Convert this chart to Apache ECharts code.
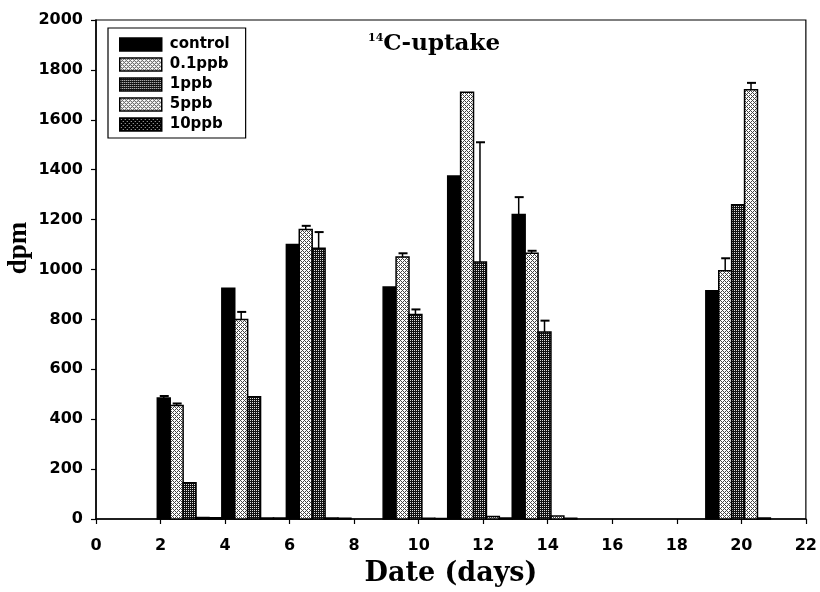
<!DOCTYPE html>
<html>
<head>
<meta charset="utf-8">
<script src="https://cdn.jsdelivr.net/npm/echarts@6/dist/echarts.min.js"></script>
<style>html,body{margin:0;padding:0;background:#fff}#c{width:820px;height:592px}</style>
</head>
<body>
<div id="c"></div>
<script>
// ---- data ----
const days = [2, 4, 6, 9, 11, 13, 19];
const seriesNames = ['control', '0.1ppb', '1ppb', '5ppb', '10ppb'];
const control     = [485, 925, 1100, 930, 1375, 1220, 915];
const ppb01       = [455, 800, 1160, 1050, 1710, 1065, 995];
const ppb1        = [145, 490, 1085, 820, 1030, 750, 1260];
const ppb5        = [6, 4, 4, 3, 10, 12, 1720];
const ppb10       = [5, 4, 3, 2, 4, 3, 4];
const errControl  = [8, 0, 0, 0, 0, 70, 0];
const err01       = [8, 30, 15, 15, 0, 10, 50];
const err1        = [0, 0, 65, 20, 480, 45, 0];
const err5        = [0, 0, 0, 0, 0, 0, 28];
const err10       = [0, 0, 0, 0, 0, 0, 0];
const xTicks = { min: 0, max: 22, interval: 2 };
const yTicks = { min: 0, max: 2000, interval: 200 };

const allValues = [control, ppb01, ppb1, ppb5, ppb10];
const allErrors = [errControl, err01, err1, err5, err10];

// ---- fill patterns ----
function makePattern(kind) {
  const c = document.createElement('canvas');
  c.width = 4; c.height = 4;
  const g = c.getContext('2d');
  if (kind === 'solid') { g.fillStyle = '#000'; g.fillRect(0,0,4,4); }
  else if (kind === 'light') {
    g.fillStyle = '#fff'; g.fillRect(0,0,4,4);
    g.fillStyle = '#444';
    [[0,0],[1,1],[2,2],[3,3],[3,1],[1,3]].forEach(p => g.fillRect(p[0],p[1],1,1));
  } else if (kind === 'dark') {
    g.fillStyle = '#111'; g.fillRect(0,0,4,4);
    g.fillStyle = '#ddd';
    [[0,0],[2,2],[2,0],[0,2]].forEach(p => g.fillRect(p[0],p[1],1,1));
  } else {
    g.fillStyle = '#000'; g.fillRect(0,0,4,4);
    g.fillStyle = '#bbb';
    [[1,1],[3,3]].forEach(p => g.fillRect(p[0],p[1],1,1));
  }
  return { image: c, repeat: 'repeat' };
}
const fills = [makePattern('solid'), makePattern('light'), makePattern('dark'), makePattern('light'), makePattern('darker')];

const BAR_W = 0.4, START = -0.1;

function renderItem(params, api) {
  const i = params.seriesIndex;
  const d = api.value(0), v = api.value(1), e = api.value(2);
  const xl = d + START + i * BAR_W, xr = xl + BAR_W;
  const p0 = api.coord([xl, 0]);
  const p1 = api.coord([xr, v]);
  const children = [{
    type: 'rect',
    shape: { x: p0[0], y: p1[1], width: p1[0] - p0[0], height: p0[1] - p1[1] },
    style: { fill: fills[i], stroke: '#000', lineWidth: 1.5 }
  }];
  if (e > 0) {
    const cx = (p0[0] + p1[0]) / 2;
    const pt = api.coord([xl, v + e]);
    children.push({ type: 'line', shape: { x1: cx, y1: p1[1], x2: cx, y2: pt[1] }, style: { stroke: '#000', lineWidth: 1.5 } });
    children.push({ type: 'line', shape: { x1: cx - 4, y1: pt[1], x2: cx + 5, y2: pt[1] }, style: { stroke: '#000', lineWidth: 2 } });
  }
  return { type: 'group', children };
}

const series = seriesNames.map((name, i) => ({
  name,
  type: 'custom',
  renderItem,
  itemStyle: { color: fills[i], borderColor: '#000', borderWidth: 1.5 },
  encode: { x: 0, y: 1 },
  data: days.map((d, k) => [d, allValues[i][k], allErrors[i][k]]),
  z: 2
}));

const chart = echarts.init(document.getElementById('c'));
chart.setOption({
  animation: false,
  backgroundColor: '#fff',
  grid: { left: 96, right: 12, top: 20, bottom: 70, show: true, borderColor: '#000', borderWidth: 1.2, backgroundColor: 'transparent' },
  title: {
    left: 363, top: 28,
    text: '{s|14}{b|C-uptake}',
    textStyle: {
      rich: {
        s: { fontFamily: 'DejaVu Serif', fontWeight: 'bold', fontSize: 11, verticalAlign: 'top', padding: [0,0,12,0], color: '#000' },
        b: { fontFamily: 'DejaVu Serif', fontWeight: 'bold', fontSize: 23, color: '#000' }
      }
    }
  },
  legend: {
    orient: 'vertical', left: 108, top: 28,
    data: seriesNames,
    icon: 'rect',
    itemWidth: 42, itemHeight: 13, itemGap: 5,
    padding: [9, 16, 6, 11],
    borderColor: '#000', borderWidth: 1.2,
    itemStyle: { borderColor: '#000', borderWidth: 1.5 },
    textStyle: { fontFamily: 'DejaVu Sans', fontWeight: 'bold', fontSize: 15, color: '#000', padding: [0, 0, 0, 3] }
  },
  graphic: [{
    type: 'text',
    x: 19, y: 248,
    rotation: Math.PI / 2,
    style: { text: 'dpm', fontFamily: 'Liberation Serif', fontWeight: 'bold', fontSize: 27, fill: '#000', align: 'center', verticalAlign: 'middle' }
  }],
  xAxis: {
    type: 'value', min: xTicks.min, max: xTicks.max, interval: xTicks.interval,
    name: 'Date (days)', nameLocation: 'middle', nameGap: 41,
    nameTextStyle: { fontFamily: 'DejaVu Serif', fontWeight: 'bold', fontSize: 27, color: '#000' },
    axisLine: { lineStyle: { color: '#000', width: 1.5 } },
    axisTick: { length: 5, lineStyle: { color: '#000', width: 1.2 } },
    axisLabel: { fontFamily: 'DejaVu Sans', fontWeight: 'bold', fontSize: 16, color: '#000', margin: 19 },
    splitLine: { show: false }
  },
  yAxis: {
    type: 'value', min: yTicks.min, max: yTicks.max, interval: yTicks.interval,
    axisLine: { show: true, lineStyle: { color: '#000', width: 1.5 } },
    axisTick: { show: true, length: 5, lineStyle: { color: '#000', width: 1.2 } },
    axisLabel: { fontFamily: 'DejaVu Sans', fontWeight: 'bold', fontSize: 16, color: '#000', margin: 13, formatter: v => String(v) },
    splitLine: { show: false }
  },
  series
});
</script>
</body>
</html>
